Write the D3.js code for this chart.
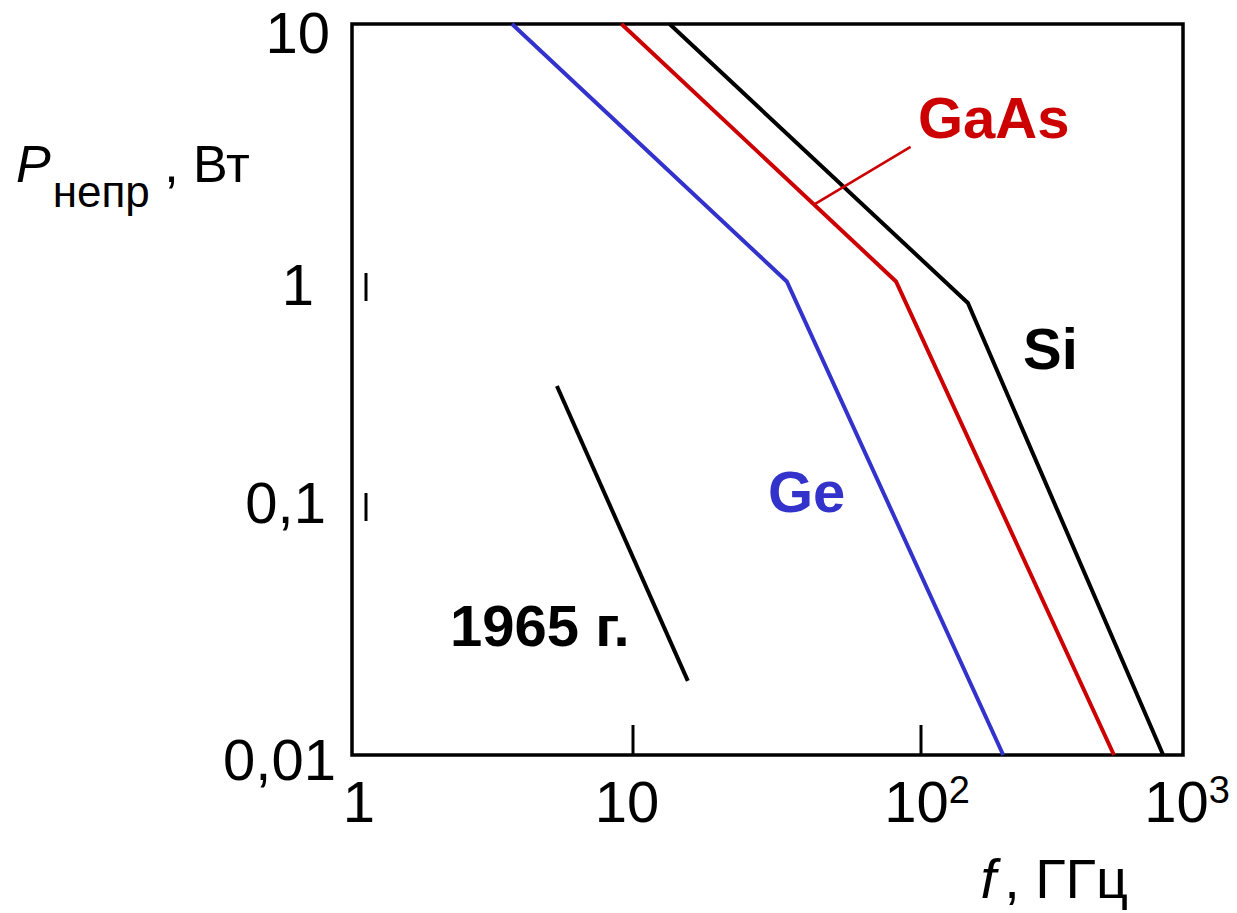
<!DOCTYPE html>
<html>
<head>
<meta charset="utf-8">
<script src="https://cdn.jsdelivr.net/npm/d3@7"></script>
<style>
  body { margin: 0; background: #fff; }
  text { font-family: "Liberation Sans", Arial, sans-serif; }
</style>
</head>
<body>
<div id="chart"></div>
<script>
// Данные (частота в ГГц, мощность в Вт)
var xTicks = [1, 10, 100, 1000];
var xTickBase = ["1", "10", "10", "10"];
var xTickExp = ["", "", "2", "3"];
var yTicks = [10, 1, 0.1, 0.01];
var yTickLabels = ["10", "1", "0,1", "0,01"];

var geData = [[3.71, 10], [34.2, 1.05], [206, 0.01]];
var gaasData = [[9.1, 10], [81.9, 1.05], [545, 0.01]];
var siData = [[13.4, 10], [151, 0.846], [840, 0.01]];
var data1965 = [[5.36, 0.355], [15.5, 0.0199]];
var gaasLeader = [[42.9, 2.07], [92, 3.41]];

var width = 1237, height = 913;

var svg = d3.select("#chart")
            .append("svg")
            .attr("width", width)
            .attr("height", height);

// Шкалы (логарифмические, по декадам как на рисунке)
var xScale = d3.scaleLog()
               .domain([1, 10, 100, 1000])
               .range([352, 633, 921, 1183]);

var yScale = d3.scaleLog()
               .domain([10, 1, 0.1, 0.01])
               .range([24, 287, 507, 755]);

var line = d3.line()
             .x(function(d) { return xScale(d[0]); })
             .y(function(d) { return yScale(d[1]); });

// Рамка
svg.append("rect")
   .attr("x", xScale(1))
   .attr("y", yScale(10))
   .attr("width", xScale(1000) - xScale(1))
   .attr("height", yScale(0.01) - yScale(10))
   .attr("fill", "none")
   .attr("stroke", "#000")
   .attr("stroke-width", 3.5);

// Засечки по оси x
svg.selectAll(".xtick")
   .data([10, 100])
   .enter()
   .append("line")
   .attr("x1", function(d) { return xScale(d); })
   .attr("x2", function(d) { return xScale(d); })
   .attr("y1", yScale(0.01))
   .attr("y2", yScale(0.01) - 30)
   .attr("stroke", "#000")
   .attr("stroke-width", 3);

// Засечки по оси y (короткие вертикальные штрихи)
svg.selectAll(".ytick")
   .data([1, 0.1])
   .enter()
   .append("line")
   .attr("x1", xScale(1) + 14)
   .attr("x2", xScale(1) + 14)
   .attr("y1", function(d) { return yScale(d) - 14; })
   .attr("y2", function(d) { return yScale(d) + 14; })
   .attr("stroke", "#000")
   .attr("stroke-width", 3);

// Подписи делений
var yNudgeX = [4, -12, 0, 10];
var yNudgeY = [29, 18, 16, 25];
svg.selectAll(".ylabel")
   .data(yTicks)
   .enter()
   .append("text")
   .attr("x", function(d, i) { return 326 + yNudgeX[i]; })
   .attr("y", function(d, i) { return yScale(d) + yNudgeY[i]; })
   .attr("text-anchor", "end")
   .style("font-size", "58px")
   .text(function(d, i) { return yTickLabels[i]; });

var xNudge = [7, -6, 6, 4];
var xl = svg.selectAll(".xlabel")
   .data(xTicks)
   .enter()
   .append("text")
   .attr("x", function(d, i) { return xScale(d) + xNudge[i]; })
   .attr("y", 822)
   .attr("text-anchor", "middle")
   .style("font-size", "58px");
xl.append("tspan").text(function(d, i) { return xTickBase[i]; });
xl.append("tspan")
  .attr("dy", -19)
  .style("font-size", "38px")
  .text(function(d, i) { return xTickExp[i]; });

// Кривые
svg.append("path").datum(geData)
   .attr("d", line).attr("fill", "none")
   .attr("stroke", "#3333cc").attr("stroke-width", 4);

svg.append("path").datum(gaasData)
   .attr("d", line).attr("fill", "none")
   .attr("stroke", "#cc0000").attr("stroke-width", 4);

svg.append("path").datum(siData)
   .attr("d", line).attr("fill", "none")
   .attr("stroke", "#000").attr("stroke-width", 4);

svg.append("path").datum(data1965)
   .attr("d", line).attr("fill", "none")
   .attr("stroke", "#000").attr("stroke-width", 4);

svg.append("path").datum(gaasLeader)
   .attr("d", line).attr("fill", "none")
   .attr("stroke", "#cc0000").attr("stroke-width", 2.5);

// Надписи у кривых
svg.append("text").attr("x", 918).attr("y", 138)
   .style("font-size", "58px").style("font-weight", "bold")
   .attr("fill", "#cc0000").text("GaAs");

svg.append("text").attr("x", 1023).attr("y", 369)
   .style("font-size", "58px").style("font-weight", "bold")
   .attr("fill", "#000").text("Si");

svg.append("text").attr("x", 768).attr("y", 512)
   .style("font-size", "58px").style("font-weight", "bold")
   .attr("fill", "#3333cc").text("Ge");

svg.append("text").attr("x", 450).attr("y", 646)
   .style("font-size", "58px").style("font-weight", "bold")
   .attr("fill", "#000").text("1965 г.");

// Подписи осей
var yTitle = svg.append("text")
   .attr("x", 16)
   .attr("y", 182)
   .style("font-size", "52px");
yTitle.append("tspan").style("font-style", "italic").text("P");
yTitle.append("tspan").attr("dx", 2).attr("dy", 25).style("font-size", "44px").text("непр");
yTitle.append("tspan").attr("dy", -25).text(" , Вт");

var xTitle = svg.append("text")
   .attr("x", 1128)
   .attr("y", 898)
   .attr("text-anchor", "end")
   .style("font-size", "56px");
xTitle.append("tspan").style("font-style", "italic").text("f");
xTitle.append("tspan").attr("dx", 8).text(", ГГц");
</script>
</body>
</html>
